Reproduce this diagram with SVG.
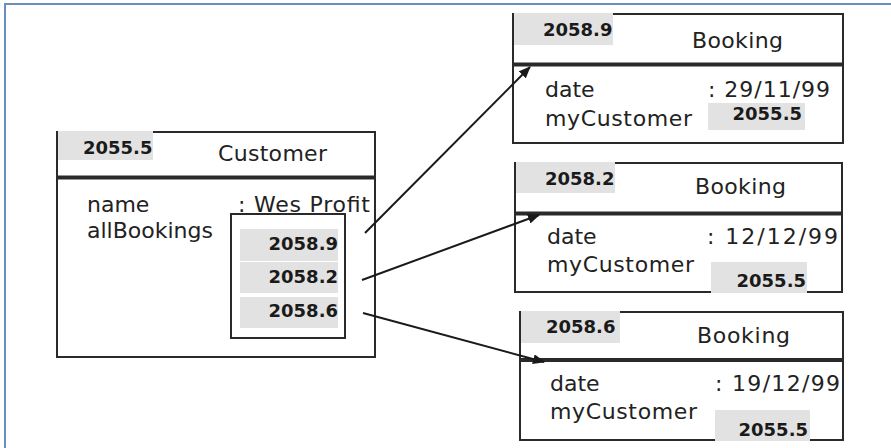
<svg xmlns="http://www.w3.org/2000/svg" width="891" height="448" viewBox="0 0 891 448">
<style>
.box{fill:#fff;stroke:#2a2a2a;stroke-width:2}
.sep{stroke:#2a2a2a;stroke-width:4}
.cell{fill:#e2e2e2}
.t{font-family:"DejaVu Sans",Verdana,sans-serif;font-size:22px;fill:#222}
.n{font-family:"DejaVu Sans",Verdana,sans-serif;font-size:18px;font-weight:bold;fill:#1a1a1a}
.conn{stroke:#1a1a1a;stroke-width:2;fill:none}
.frame{stroke:#6b8fbd;stroke-width:2;fill:none}
</style>
<defs>
<marker id="ah" viewBox="0 0 12 10" refX="11" refY="5" markerWidth="12" markerHeight="10" markerUnits="userSpaceOnUse" orient="auto">
<path d="M0,0 L12,5 L0,10 Z" fill="#1a1a1a"/>
</marker>
</defs>
<rect width="891" height="448" fill="#fff"/>
<path class="frame" d="M5,448 V4 H891"/>

<g id="customer">
<rect class="box" x="57" y="132" width="318" height="225"/>
<line class="sep" x1="57" y1="177.5" x2="375" y2="177.5"/>
<rect class="cell" x="58" y="131" width="95" height="29"/>
<text class="n" x="83" y="154">2055.5</text>
<text class="t" x="218" y="161" textLength="109">Customer</text>
<text class="t" x="87" y="212">name</text>
<text class="t" x="238" y="212" textLength="132">: Wes Profit</text>
<text class="t" x="87" y="238">allBookings</text>
<rect class="box" x="231" y="214" width="114" height="124"/>
<rect class="cell" x="240" y="229" width="98" height="32"/>
<rect class="cell" x="240" y="262" width="98" height="31"/>
<rect class="cell" x="240" y="297" width="98" height="31"/>
<text class="n" x="338" y="250" text-anchor="end">2058.9</text>
<text class="n" x="338" y="283" text-anchor="end">2058.2</text>
<text class="n" x="338" y="317" text-anchor="end">2058.6</text>
</g>

<g id="booking1">
<rect class="box" x="513" y="14" width="330" height="129"/>
<line class="sep" x1="513" y1="64.5" x2="843" y2="64.5"/>
<rect class="cell" x="514" y="13" width="99" height="32"/>
<text class="n" x="543" y="36">2058.9</text>
<text class="t" x="692" y="48" textLength="91">Booking</text>
<text class="t" x="545" y="97">date</text>
<text class="t" x="708" y="97" textLength="122">: 29/11/99</text>
<text class="t" x="545" y="126" textLength="147">myCustomer</text>
<rect class="cell" x="708" y="103" width="97" height="27"/>
<text class="n" x="802" y="120" text-anchor="end">2055.5</text>
</g>

<g id="booking2">
<rect class="box" x="515" y="163" width="327" height="129"/>
<line class="sep" x1="515" y1="213.5" x2="842" y2="213.5"/>
<rect class="cell" x="516" y="162" width="99" height="31"/>
<text class="n" x="545" y="185">2058.2</text>
<text class="t" x="695" y="194" textLength="91">Booking</text>
<text class="t" x="547" y="244">date</text>
<text class="t" x="707" y="244" textLength="131">: 12/12/99</text>
<text class="t" x="547" y="272" textLength="147">myCustomer</text>
<rect class="cell" x="711" y="262" width="96" height="31"/>
<text class="n" x="806" y="287" text-anchor="end">2055.5</text>
</g>

<g id="booking3">
<rect class="box" x="520" y="312" width="323" height="128"/>
<line class="sep" x1="520" y1="360" x2="843" y2="360"/>
<rect class="cell" x="521" y="311" width="99" height="32"/>
<text class="n" x="546" y="333">2058.6</text>
<text class="t" x="697" y="343" textLength="93">Booking</text>
<text class="t" x="550" y="391">date</text>
<text class="t" x="715" y="391" textLength="125">: 19/12/99</text>
<text class="t" x="550" y="419" textLength="147">myCustomer</text>
<rect class="cell" x="715" y="410" width="95" height="31"/>
<text class="n" x="808" y="436" text-anchor="end">2055.5</text>
</g>

<g id="connectors">
<line class="conn" x1="365" y1="233" x2="530" y2="67" marker-end="url(#ah)"/>
<line class="conn" x1="362" y1="280" x2="539" y2="215" marker-end="url(#ah)"/>
<line class="conn" x1="363" y1="313" x2="544" y2="362" marker-end="url(#ah)"/>
</g>
</svg>
